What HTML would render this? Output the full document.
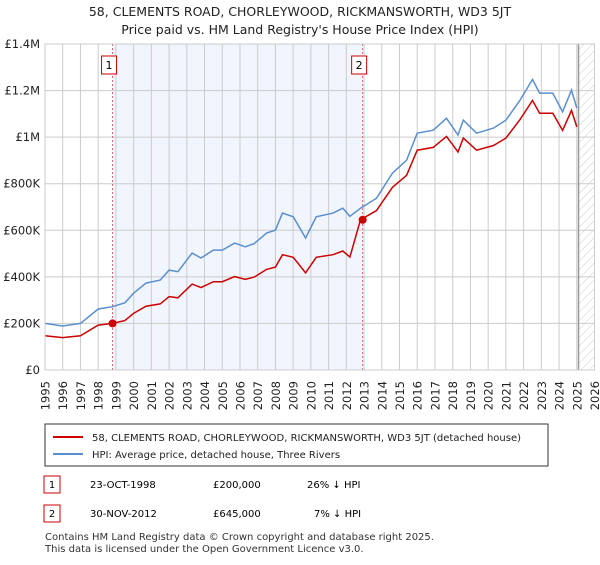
<!DOCTYPE html>
<html><head><meta charset="utf-8"><style>
body{margin:0;background:#fff;font-family:"Liberation Sans","DejaVu Sans",sans-serif;}
svg text{font-family:"DejaVu Sans","Liberation Sans",sans-serif;}
</style></head><body>
<svg id="c" width="600" height="560" xmlns="http://www.w3.org/2000/svg">
<defs><pattern id="hatch" width="6" height="6" patternUnits="userSpaceOnUse" patternTransform="rotate(45)"><line x1="0" y1="0" x2="0" y2="6" stroke="#ccc" stroke-width="1"/></pattern></defs>
<text x="300" y="16" text-anchor="middle" font-size="12.5" fill="#222">58, CLEMENTS ROAD, CHORLEYWOOD, RICKMANSWORTH, WD3 5JT</text>
<text x="300" y="34" text-anchor="middle" font-size="12.5" fill="#222">Price paid vs. HM Land Registry's House Price Index (HPI)</text>
<g id="plot"></g>
<rect x="45" y="424" width="503" height="42" fill="#fff" stroke="#333"/>
<line x1="53" y1="437" x2="83" y2="437" stroke="#cc0000" stroke-width="2"/>
<text x="92" y="441" font-size="10" fill="#222">58, CLEMENTS ROAD, CHORLEYWOOD, RICKMANSWORTH, WD3 5JT (detached house)</text>
<line x1="53" y1="454" x2="83" y2="454" stroke="#5b8fd0" stroke-width="2"/>
<text x="92" y="458" font-size="10" fill="#222">HPI: Average price, detached house, Three Rivers</text>
<rect x="44" y="476" width="16" height="17" fill="#fff" stroke="#cc0000"/>
<text x="52" y="488" font-size="10" text-anchor="middle">1</text>
<text x="90" y="488" font-size="10">23-OCT-1998</text>
<text x="213" y="488" font-size="10">£200,000</text>
<text x="307" y="488" font-size="10">26% ↓ HPI</text>
<rect x="44" y="505" width="16" height="17" fill="#fff" stroke="#cc0000"/>
<text x="52" y="517" font-size="10" text-anchor="middle">2</text>
<text x="90" y="517" font-size="10">30-NOV-2012</text>
<text x="213" y="517" font-size="10">£645,000</text>
<text x="314" y="517" font-size="10">7% ↓ HPI</text>
<text x="45" y="540" font-size="10" fill="#333">Contains HM Land Registry data © Crown copyright and database right 2025.</text>
<text x="45" y="552" font-size="10" fill="#333">This data is licensed under the Open Government Licence v3.0.</text>
</svg>
<script>
const hpiYears=[1995,1996,1997,1998,1998.8,1999.5,2000,2000.7,2001.5,2002,2002.5,2003.3,2003.8,2004.5,2005,2005.7,2006.3,2006.8,2007.5,2008,2008.4,2009,2009.7,2010.3,2011.25,2011.8,2012.2,2012.8,2013.7,2014.6,2015.4,2016,2016.9,2017.65,2018.3,2018.6,2019.35,2020.3,2021.0,2021.8,2022.5,2022.9,2023.65,2024.2,2024.7,2025.0];
const hpiValues=[200,189,200,262,272,288,330,373,386,429,422,502,481,515,515,545,529,543,588,601,674,658,567,658,674,695,660,695,738,845,901,1017,1030,1081,1009,1073,1017,1039,1073,1159,1248,1189,1189,1109,1202,1125];
const priceValues=[147,139,147,193,200,212,243,274,284,315,310,369,354,379,379,401,389,399,432,442,495,484,417,484,495,511,485,645,685,784,836,944,956,1003,936,996,944,964,996,1076,1158,1103,1103,1029,1115,1044];
const yTicks=[0,200,400,600,800,1000,1200,1400];
const yTickLabels=["£0","£200K","£400K","£600K","£800K","£1M","£1.2M","£1.4M"];
const sales=[{n:"1",year:1998.81,value:200},{n:"2",year:2012.92,value:645}];
const X0=45,X1=594.5,Y0=370,Y1=44;
const x=y=>X0+(y-1995)*(X1-X0)/31;
const yv=v=>Y0-v*(Y0-Y1)/1400;
const g=document.getElementById('plot');
const NS='http://www.w3.org/2000/svg';
function mk(t,a){const e=document.createElementNS(NS,t);for(const k in a)e.setAttribute(k,a[k]);g.appendChild(e);return e;}
let e;
e=mk('rect',{x:x(sales[0].year),y:Y1,width:x(sales[1].year)-x(sales[0].year),height:Y0-Y1,fill:'#eef3fd',opacity:0.8});


e=mk('rect',{x:x(2025.1),y:Y1,width:X1-x(2025.1),height:Y0-Y1,fill:'url(#hatch)'});


for(let yr=1995;yr<=2026;yr++){
 e=mk('line',{x1:x(yr),x2:x(yr),y1:Y1,y2:Y0,stroke:'#ccc','stroke-width':1});
 
 
 const tx=x(yr)+4.5,ty=381;
 e=mk('text',{x:tx,y:ty,'text-anchor':'end','font-size':11.5,fill:'#222',transform:'rotate(-90 '+tx+' '+ty+')'});e.textContent=yr;
 
 
}
yTicks.forEach((t,i)=>{
 e=mk('line',{x1:X0,x2:X1,y1:yv(t),y2:yv(t),stroke:'#ccc','stroke-width':1});
 
 
 e=mk('text',{x:X0-5,y:yv(t)+4,'text-anchor':'end','font-size':11.5,fill:'#222'});e.textContent=yTickLabels[i];
 
 
});
e=mk('line',{x1:x(2025.1),x2:x(2025.1),y1:Y1,y2:Y0,stroke:'#999','stroke-width':1.5});


sales.forEach(s=>{
 e=mk('line',{x1:x(s.year),x2:x(s.year),y1:Y1,y2:Y0,stroke:'#e06070','stroke-width':1,'stroke-dasharray':'2,2'});
 
 
 e=mk('rect',{x:x(s.year)-11,y:56,width:15,height:18,fill:'#fff',stroke:'#cc0000'});
 
 
 e=mk('text',{x:x(s.year)-3.5,y:69,'text-anchor':'middle','font-size':11});e.textContent=s.n;
 
 
});
const pts=v=>hpiYears.map((yr,i)=>x(yr).toFixed(1)+','+yv(v[i]).toFixed(1)).join(' ');
e=mk('polyline',{points:pts(hpiValues),fill:'none',stroke:'#5b8fd0','stroke-width':1.5});


e=mk('polyline',{points:pts(priceValues),fill:'none',stroke:'#cc0000','stroke-width':1.5});


sales.forEach(s=>{
 e=mk('circle',{cx:x(s.year),cy:yv(s.value),r:4,fill:'#cc0000'});
 
 
});
e=mk('rect',{x:X0,y:Y1,width:X1-X0,height:Y0-Y1,fill:'none',stroke:'#ccc'});


</script>
</body></html>
